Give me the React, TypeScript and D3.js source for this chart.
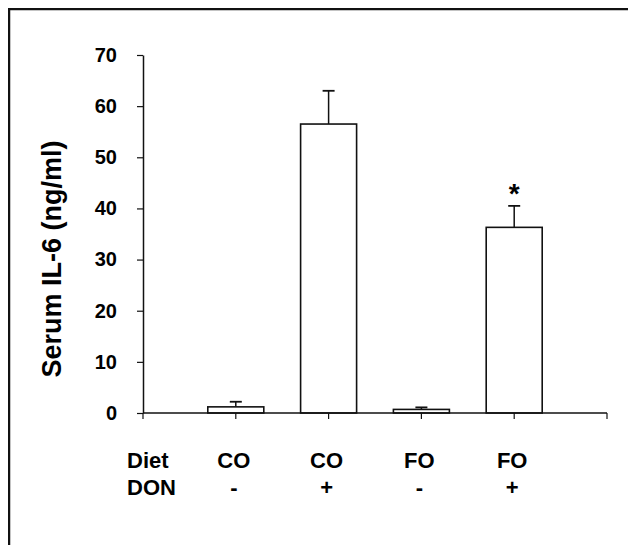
import { useEffect, useRef } from "react";
import { select, scaleLinear, scalePoint, axisLeft, range } from "d3";

const width = 636;
const height = 545;

// serum IL-6 per group (ng/ml)
const diet = ["CO", "CO", "FO", "FO"];
const don = ["-", "+", "-", "+"];
const il6Mean = [1.2, 56.5, 0.7, 36.3];
const il6Sem = [1.0, 6.5, 0.4, 4.2];
const marks = ["", "", "", "*"];
const yTicks = range(0, 71, 10);

const font = "'Liberation Sans', Arial, sans-serif";

const App = () => {
  const yAxisRef = useRef<SVGGElement>(null);
  const groups = diet.map((d, i) => d + don[i] + i);

  const x = scalePoint<string>().domain(groups).range([143, 607]).padding(1);
  const y = scaleLinear().domain([0, 70]).range([413, 55]);
  const barW = 56;
  const step = x.step();
  const xTicks = range(0, groups.length + 2).map((k) => 143 + k * step);

  useEffect(() => {
    const g = select(yAxisRef.current);
    g.call(
      axisLeft(y).tickValues(yTicks).tickSize(6).tickSizeOuter(0).tickPadding(20)
    );
    g.select(".domain").attr("stroke", "#111").attr("stroke-width", 1.5);
    g.selectAll(".tick line").attr("stroke", "#111").attr("stroke-width", 1.2);
    g.selectAll(".tick text")
      .attr("font-family", font)
      .attr("font-weight", "bold")
      .attr("font-size", 20)
      .attr("fill", "#000");
  }, []);

  return (
    <svg
      width={width - 8}
      height={height - 8}
      style={{ display: "block", overflow: "visible" }}
    >
      <g transform="translate(-8,-8)">
        {/* frame */}
        <line x1={8} x2={width} y1={9} y2={9} stroke="#111" strokeWidth={2.5} />
        <line x1={9} x2={9} y1={8} y2={height} stroke="#111" strokeWidth={2.5} />

        <text
          transform="translate(61,259) rotate(-90)"
          textAnchor="middle"
          fontFamily={font}
          fontWeight="bold"
          fontSize={27}
        >
          Serum IL-6 (ng/ml)
        </text>

        {/* bars */}
        {groups.map((g, i) => {
          const cx = x(g) as number;
          return (
            <g key={g}>
              <line
                x1={cx}
                x2={cx}
                y1={y(il6Mean[i])}
                y2={y(il6Mean[i] + il6Sem[i])}
                stroke="#111"
                strokeWidth={1.5}
              />
              <line
                x1={cx - 6}
                x2={cx + 6}
                y1={y(il6Mean[i] + il6Sem[i])}
                y2={y(il6Mean[i] + il6Sem[i])}
                stroke="#111"
                strokeWidth={1.8}
              />
              <rect
                x={cx - barW / 2}
                y={y(il6Mean[i])}
                width={barW}
                height={y(0) - y(il6Mean[i])}
                fill="#fff"
                stroke="#111"
                strokeWidth={1.6}
              />
              {marks[i] && (
                <text
                  x={cx}
                  y={y(il6Mean[i] + il6Sem[i]) - 3}
                  textAnchor="middle"
                  fontFamily={font}
                  fontWeight="bold"
                  fontSize={28}
                >
                  {marks[i]}
                </text>
              )}
            </g>
          );
        })}

        {/* x axis */}
        <line x1={143} x2={607} y1={y(0)} y2={y(0)} stroke="#111" strokeWidth={1.5} />
        {xTicks.map((t) => (
          <line key={t} x1={t} x2={t} y1={y(0)} y2={y(0) + 6} stroke="#111" strokeWidth={1.2} />
        ))}
        <g ref={yAxisRef} transform="translate(143,0)" />

        {/* group labels */}
        <g fontFamily={font} fontWeight="bold" fontSize={22}>
          <text x={127} y={468}>Diet</text>
          <text x={127} y={495}>DON</text>
          {groups.map((g, i) => (
            <g key={g}>
              <text x={(x(g) as number) - 2} y={468} textAnchor="middle">{diet[i]}</text>
              <text x={(x(g) as number) - 2} y={495} textAnchor="middle">{don[i]}</text>
            </g>
          ))}
        </g>
      </g>
    </svg>
  );
};

export default App;
